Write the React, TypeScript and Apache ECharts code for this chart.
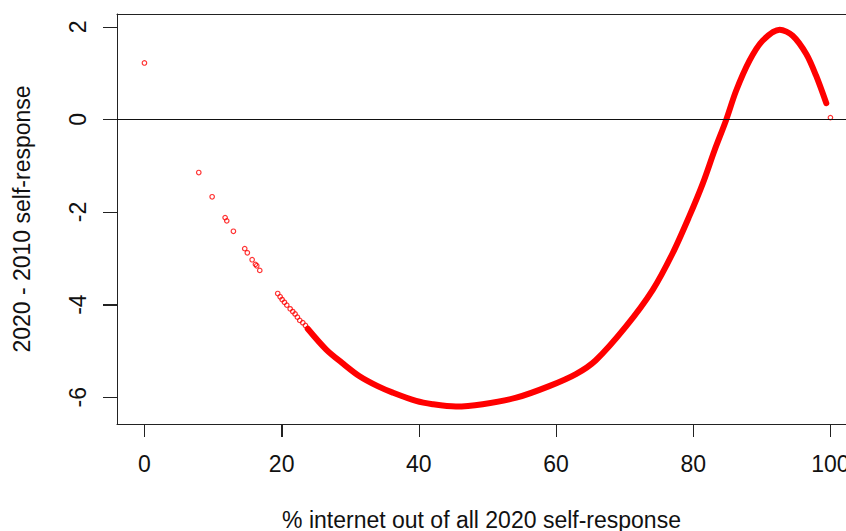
import React, { useEffect, useRef } from "react";
import * as echarts from "echarts";

const xTicks = [0, 20, 40, 60, 80, 100];
const yTicks = [-6, -4, -2, 0, 2];
// the plot region of the reference runs past the right edge of the picture
const xRange = [-4, 102.27];
const yRange = [-6.578, 2.278];

// isolated open-circle observations
const pointX = [0, 7.92, 9.87, 11.76, 12.0, 12.97, 14.62, 15.0, 15.7, 16.18, 16.37, 16.81,
  19.43, 19.78, 20.07, 20.41, 20.75, 21.24, 21.62, 21.96, 22.3, 22.64, 23.08, 23.47, 100];
const pointY = [1.22, -1.146, -1.67, -2.12, -2.19, -2.415, -2.79, -2.88, -3.03, -3.13, -3.16, -3.26,
  -3.76, -3.83, -3.89, -3.95, -4.01, -4.09, -4.15, -4.2, -4.27, -4.34, -4.39, -4.45, 0.04];

// dense run of observations that merges into a solid band
const curveX = [23.8, 26.5, 29.0, 31.3, 34.0, 36.2, 39.6, 42.0, 45.4, 49.3, 54.2, 59.0, 62.9, 65.8,
  70.2, 74.1, 77.0, 79.4, 81.4, 83.1, 84.8, 86.25, 88.2, 90.1, 92.6, 94.5, 96.5, 97.9, 99.4];
const curveY = [-4.52, -4.97, -5.28, -5.54, -5.76, -5.9, -6.08, -6.15, -6.2, -6.15, -6.01, -5.76, -5.5, -5.2,
  -4.47, -3.68, -2.89, -2.1, -1.38, -0.67, -0.01, 0.62, 1.27, 1.7, 1.94, 1.81, 1.41, 0.95, 0.35];

const FONT = "'Liberation Sans', Arial, sans-serif";
const AXIS_COLOR = "#222";

export default function App() {
  const ref = useRef<HTMLDivElement>(null);
  useEffect(() => {
    if (!ref.current) return;
    const chart = echarts.init(ref.current, null, { renderer: "svg" });
    chart.setOption({
      animation: false,
      backgroundColor: "#fff",
      grid: {
        left: 117,
        top: 14,
        right: 0,
        bottom: 107,
        outerBoundsMode: "none",
        containLabel: false,
        show: false,
      },
      xAxis: [
        {
          type: "value",
          min: xRange[0],
          max: xRange[1],
          position: "bottom",
          name: "% internet out of all 2020 self-response",
          nameLocation: "middle",
          nameGap: 84,
          nameTextStyle: { fontFamily: FONT, fontSize: 23, color: "#111" },
          axisLine: { show: true, onZero: false, lineStyle: { color: AXIS_COLOR, width: 1 } },
          splitLine: { show: false },
          axisTick: { show: true, length: 13, lineStyle: { color: AXIS_COLOR, width: 1 }, customValues: xTicks },
          axisLabel: {
            fontFamily: FONT,
            fontSize: 23,
            color: "#111",
            margin: 28,
            customValues: xTicks,
            formatter: (v: number) => String(v),
          },
        },
        {
          type: "value",
          min: xRange[0],
          max: xRange[1],
          position: "top",
          axisLine: { show: true, onZero: false, lineStyle: { color: AXIS_COLOR, width: 1 } },
          splitLine: { show: false },
          axisTick: { show: false },
          axisLabel: { show: false },
        },
      ],
      yAxis: {
        type: "value",
        min: yRange[0],
        max: yRange[1],
        position: "left",
        name: "2020 - 2010 self-response",
        nameLocation: "middle",
        nameGap: 84,
        nameTextStyle: { fontFamily: FONT, fontSize: 23, color: "#111" },
        axisLine: { show: true, onZero: false, lineStyle: { color: AXIS_COLOR, width: 1 } },
        splitLine: { show: false },
        axisTick: { show: true, length: 14, lineStyle: { color: AXIS_COLOR, width: 1 }, customValues: yTicks },
        axisLabel: {
          fontFamily: FONT,
          fontSize: 23,
          color: "#111",
          rotate: 90,
          margin: 28,
          customValues: yTicks,
          formatter: (v: number) => String(v),
        },
      },
      series: [
        {
          type: "line",
          data: curveX.map((x, i) => [x, curveY[i]]),
          smooth: 0.3,
          showSymbol: false,
          symbol: "none",
          lineStyle: { color: "#ff0000", width: 6, cap: "round", join: "round" },
          markLine: {
            silent: true,
            symbol: ["none", "none"],
            label: { show: false },
            lineStyle: { color: "#111", width: 1, type: "solid" },
            data: [{ yAxis: 0 }],
          },
          z: 2,
        },
        {
          type: "scatter",
          data: pointX.map((x, i) => [x, pointY[i]]),
          symbol: "circle",
          symbolSize: 4.5,
          itemStyle: { color: "rgba(0,0,0,0)", borderColor: "#ff0000", borderWidth: 1.2 },
          z: 3,
        },
        {
          type: "custom",
          coordinateSystem: "cartesian2d",
          clip: false,
          silent: true,
          z: 10,
          data: xTicks.map((v) => [v, yRange[0]]),
          renderItem: (_p: any, api: any) => {
            const c = api.coord([api.value(0), api.value(1)]);
            const x = Math.round(c[0]) + 0.5;
            return {
              type: "line",
              shape: { x1: x, y1: c[1], x2: x, y2: c[1] + 13 },
              style: { stroke: AXIS_COLOR, lineWidth: 1 },
            };
          },
        },
        {
          type: "custom",
          coordinateSystem: "cartesian2d",
          clip: false,
          silent: true,
          z: 10,
          data: yTicks.map((v) => [xRange[0], v]),
          renderItem: (_p: any, api: any) => {
            const c = api.coord([api.value(0), api.value(1)]);
            const y = Math.round(c[1]) + 0.5;
            return {
              type: "line",
              shape: { x1: c[0] - 14, y1: y, x2: c[0], y2: y },
              style: { stroke: AXIS_COLOR, lineWidth: 1 },
            };
          },
        },
      ],
    });

    return () => chart.dispose();
  }, []);
  return (
    <div
      ref={ref}
      style={{ position: "absolute", left: 0, top: 0, width: 846, height: 531, background: "#fff" }}
    />
  );
}
